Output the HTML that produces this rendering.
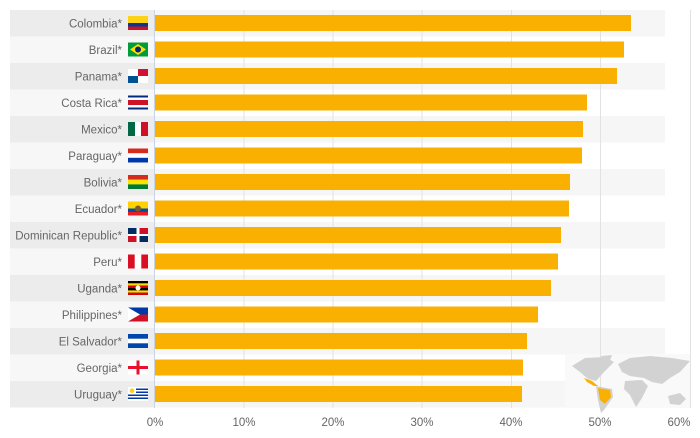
<!DOCTYPE html><html><head><style>body{margin:0;background:#fff;width:700px;height:433px;overflow:hidden}</style></head><body>
<svg width="700" height="433" xmlns="http://www.w3.org/2000/svg" font-family="Liberation Sans, sans-serif" font-size="11.5" fill="#666">
<g>
<rect x="10" y="10" width="145" height="26.5" fill="#ececec"/><rect x="155" y="10" width="510" height="26.5" fill="#f6f6f6"/>
<rect x="10" y="36.5" width="145" height="26.5" fill="#f7f7f7"/>
<rect x="10" y="63" width="145" height="26.5" fill="#ececec"/><rect x="155" y="63" width="510" height="26.5" fill="#f6f6f6"/>
<rect x="10" y="89.5" width="145" height="26.5" fill="#f7f7f7"/>
<rect x="10" y="116" width="145" height="26.5" fill="#ececec"/><rect x="155" y="116" width="510" height="26.5" fill="#f6f6f6"/>
<rect x="10" y="142.5" width="145" height="26.5" fill="#f7f7f7"/>
<rect x="10" y="169" width="145" height="26.5" fill="#ececec"/><rect x="155" y="169" width="510" height="26.5" fill="#f6f6f6"/>
<rect x="10" y="195.5" width="145" height="26.5" fill="#f7f7f7"/>
<rect x="10" y="222" width="145" height="26.5" fill="#ececec"/><rect x="155" y="222" width="510" height="26.5" fill="#f6f6f6"/>
<rect x="10" y="248.5" width="145" height="26.5" fill="#f7f7f7"/>
<rect x="10" y="275" width="145" height="26.5" fill="#ececec"/><rect x="155" y="275" width="510" height="26.5" fill="#f6f6f6"/>
<rect x="10" y="301.5" width="145" height="26.5" fill="#f7f7f7"/>
<rect x="10" y="328" width="145" height="26.5" fill="#ececec"/><rect x="155" y="328" width="510" height="26.5" fill="#f6f6f6"/>
<rect x="10" y="354.5" width="145" height="26.5" fill="#f7f7f7"/>
<rect x="10" y="381" width="145" height="26.5" fill="#ececec"/><rect x="155" y="381" width="510" height="26.5" fill="#f6f6f6"/>
</g>
<rect x="565" y="354" width="125" height="54" fill="#f9f9f9"/>
<g stroke="#e2e2e2">
<line x1="244" y1="10" x2="244" y2="408"/><line x1="333" y1="10" x2="333" y2="408"/><line x1="422" y1="10" x2="422" y2="408"/><line x1="511.5" y1="10" x2="511.5" y2="408"/><line x1="600.5" y1="10" x2="600.5" y2="408"/><line x1="690.5" y1="10" x2="690.5" y2="408"/>
</g>
<line x1="154.5" y1="10" x2="154.5" y2="408" stroke="#c8d4e6"/>
<g fill="#d2d2d2">
<polygon points="572,366 585,358 605,357 614,362 604,372 596,381 588,379 580,372"/>
<polygon points="596,386 612,389 613,397 604,410 601,413 598,400"/>
<polygon points="601,356 612,355 609,363 602,361"/>
<polygon points="618,364 630,358 650,356 672,358 690,361 680,372 670,378 662,384 652,382 644,378 630,376 622,372"/>
<polygon points="625,381 642,380 648,386 642,398 636,407 630,395 624,389"/>
<polygon points="668,396 680,393 686,399 680,405 670,404"/>
</g>
<g fill="#fab000"><polygon points="584,378 592,381 598,386 594,386 587,382"/><polygon points="598,388 610,390 611,397 605,404 600,400"/></g>
<g fill="#fab000">
<rect x="155" y="15" width="476" height="16"/>
<rect x="155" y="41.5" width="469" height="16"/>
<rect x="155" y="68" width="462" height="16"/>
<rect x="155" y="94.5" width="432" height="16"/>
<rect x="155" y="121" width="428" height="16"/>
<rect x="155" y="147.5" width="427" height="16"/>
<rect x="155" y="174" width="415" height="16"/>
<rect x="155" y="200.5" width="414" height="16"/>
<rect x="155" y="227" width="406" height="16"/>
<rect x="155" y="253.5" width="403" height="16"/>
<rect x="155" y="280" width="396" height="16"/>
<rect x="155" y="306.5" width="383" height="16"/>
<rect x="155" y="333" width="372" height="16"/>
<rect x="155" y="359.5" width="368" height="16"/>
<rect x="155" y="386" width="367" height="16"/>
</g>
<g text-anchor="end" fill="#666">
<text x="122" y="27.5">Colombia*</text>
<text x="122" y="54">Brazil*</text>
<text x="122" y="80.5">Panama*</text>
<text x="122" y="107">Costa Rica*</text>
<text x="122" y="133.5">Mexico*</text>
<text x="122" y="160">Paraguay*</text>
<text x="122" y="186.5">Bolivia*</text>
<text x="122" y="213">Ecuador*</text>
<text x="122" y="239.5">Dominican Republic*</text>
<text x="122" y="266">Peru*</text>
<text x="122" y="292.5">Uganda*</text>
<text x="122" y="319">Philippines*</text>
<text x="122" y="345.5">El Salvador*</text>
<text x="122" y="372">Georgia*</text>
<text x="122" y="398.5">Uruguay*</text>
</g>
<g>
<rect x="128" y="16" width="20" height="7" fill="#fcd116"/><rect x="128" y="23" width="20" height="3.5" fill="#003893"/><rect x="128" y="26.5" width="20" height="3.5" fill="#ce1126"/>
<rect x="128" y="42.5" width="20" height="14" fill="#009b3a"/><polygon points="138,44 146,49.5 138,55 130,49.5" fill="#fedf00"/><circle cx="138" cy="49.5" r="3" fill="#002776"/>
<rect x="128" y="69" width="20" height="14" fill="#fff"/><rect x="138" y="69" width="10" height="7" fill="#d21034"/><rect x="128" y="76" width="10" height="7" fill="#005293"/>
<rect x="128" y="95.5" width="20" height="14" fill="#002b7f"/><rect x="128" y="97.5" width="20" height="10" fill="#fff"/><rect x="128" y="100" width="20" height="5" fill="#ce1126"/>
<rect x="128" y="122" width="20" height="14" fill="#fff"/><rect x="128" y="122" width="7" height="14" fill="#006847"/><rect x="141" y="122" width="7" height="14" fill="#ce1126"/>
<rect x="128" y="148.5" width="20" height="14" fill="#fff"/><rect x="128" y="148.5" width="20" height="4.7" fill="#d52b1e"/><rect x="128" y="157.8" width="20" height="4.7" fill="#0038a8"/>
<rect x="128" y="175" width="20" height="4.7" fill="#d52b1e"/><rect x="128" y="179.7" width="20" height="4.7" fill="#f9e300"/><rect x="128" y="184.4" width="20" height="4.6" fill="#007934"/>
<rect x="128" y="201.5" width="20" height="7" fill="#ffd100"/><rect x="128" y="208.5" width="20" height="3.5" fill="#034ea2"/><rect x="128" y="212" width="20" height="3.5" fill="#ed1c24"/><circle cx="138" cy="208.5" r="3" fill="#7a5c2e"/>
<rect x="128" y="228" width="20" height="14" fill="#fff"/><rect x="128" y="228" width="8.5" height="6" fill="#002d62"/><rect x="139.5" y="228" width="8.5" height="6" fill="#ce1126"/><rect x="128" y="236" width="8.5" height="6" fill="#ce1126"/><rect x="139.5" y="236" width="8.5" height="6" fill="#002d62"/>
<rect x="128" y="254.5" width="20" height="14" fill="#fff"/><rect x="128" y="254.5" width="6.7" height="14" fill="#d91023"/><rect x="141.3" y="254.5" width="6.7" height="14" fill="#d91023"/>
<rect x="128" y="281" width="20" height="14" fill="#000"/><rect x="128" y="283.3" width="20" height="2.3" fill="#fcdc04"/><rect x="128" y="285.6" width="20" height="2.4" fill="#d90000"/><rect x="128" y="290.4" width="20" height="2.3" fill="#fcdc04"/><rect x="128" y="292.7" width="20" height="2.3" fill="#d90000"/><circle cx="138" cy="288" r="2.5" fill="#fff"/>
<rect x="128" y="307.5" width="20" height="7" fill="#0038a8"/><rect x="128" y="314.5" width="20" height="7" fill="#ce1126"/><polygon points="128,307.5 140,314.5 128,321.5" fill="#fff"/>
<rect x="128" y="334" width="20" height="14" fill="#fff"/><rect x="128" y="334" width="20" height="4.7" fill="#0047ab"/><rect x="128" y="343.3" width="20" height="4.7" fill="#0047ab"/>
<rect x="128" y="360.5" width="20" height="14" fill="#fff"/><rect x="136.5" y="360.5" width="3" height="14" fill="#e8112d"/><rect x="128" y="366" width="20" height="3" fill="#e8112d"/>
<rect x="128" y="387" width="20" height="14" fill="#fff"/><rect x="128" y="388.5" width="20" height="1.5" fill="#0038a8"/><rect x="128" y="391.5" width="20" height="1.5" fill="#0038a8"/><rect x="128" y="394.5" width="20" height="1.5" fill="#0038a8"/><rect x="128" y="397.5" width="20" height="1.5" fill="#0038a8"/><rect x="128" y="387" width="8" height="7.5" fill="#fff"/><circle cx="132" cy="390.7" r="2.3" fill="#fcd116"/>
</g>
<g fill="#666" text-anchor="middle">
<text x="155" y="426">0%</text><text x="244" y="426">10%</text><text x="333" y="426">20%</text><text x="422" y="426">30%</text><text x="511" y="426">40%</text><text x="600" y="426">50%</text><text x="679" y="426">60%</text>
</g>
</svg></body></html>
